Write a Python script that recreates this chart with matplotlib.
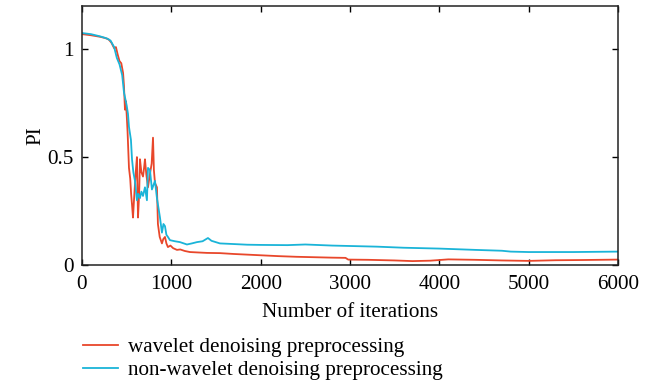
import matplotlib
matplotlib.use("Agg")
import matplotlib.pyplot as plt

# Performance index (PI) versus training iterations
wavelet_x = [0, 100, 200, 260, 300, 330, 360, 380, 400, 420, 440, 460, 470, 481,
             490, 500, 510, 526, 540, 550, 560, 571, 585, 600, 615, 627, 640, 649,
             665, 683, 695, 705, 720, 739, 760, 780, 795, 805, 817, 839, 850, 870,
             895, 910, 929, 945, 962, 990, 1020, 1063, 1100, 1150, 1208, 1300,
             1399, 1544, 1700, 1850, 2000, 2200, 2400, 2600, 2800, 2950, 2980,
             3200, 3500, 3700, 3900, 4100, 4400, 4700, 5000, 5300, 5600, 6000]
wavelet_pi = [1.07, 1.065, 1.058, 1.052, 1.045, 1.03, 1.005, 1.01, 0.975, 0.945,
              0.935, 0.89, 0.83, 0.72, 0.76, 0.70, 0.62, 0.45, 0.40, 0.33, 0.28,
              0.22, 0.32, 0.42, 0.50, 0.22, 0.33, 0.49, 0.43, 0.41, 0.45, 0.49,
              0.42, 0.36, 0.42, 0.47, 0.59, 0.44, 0.38, 0.36, 0.19, 0.13, 0.10,
              0.12, 0.13, 0.10, 0.083, 0.09, 0.078, 0.07, 0.072, 0.065, 0.06,
              0.058, 0.056, 0.055, 0.051, 0.048, 0.045, 0.041, 0.038, 0.036,
              0.034, 0.033, 0.025, 0.024, 0.021, 0.018, 0.02, 0.026, 0.024,
              0.021, 0.019, 0.022, 0.023, 0.025]

plain_x = [0, 100, 200, 280, 320, 360, 390, 420, 450, 470, 500, 515, 526, 548,
           560, 575, 593, 615, 630, 649, 665, 683, 705, 727, 739, 761, 783, 800,
           817, 839, 873, 895, 912, 929, 945, 962, 985, 1040, 1097, 1175, 1230,
           1287, 1350, 1410, 1450, 1544, 1700, 1850, 2000, 2300, 2500, 2800,
           3000, 3300, 3600, 4000, 4400, 4700, 4800, 5000, 5500, 6000]
plain_pi = [1.075, 1.07, 1.06, 1.05, 1.04, 1.01, 0.96, 0.93, 0.88, 0.80, 0.74,
            0.70, 0.64, 0.58, 0.49, 0.43, 0.39, 0.30, 0.33, 0.31, 0.34, 0.32,
            0.36, 0.30, 0.45, 0.44, 0.35, 0.37, 0.39, 0.31, 0.22, 0.15, 0.19,
            0.18, 0.14, 0.13, 0.115, 0.11, 0.106, 0.095, 0.1, 0.106, 0.11,
            0.125, 0.112, 0.10, 0.097, 0.094, 0.093, 0.092, 0.095, 0.09, 0.088,
            0.085, 0.08, 0.076, 0.07, 0.066, 0.062, 0.06, 0.06, 0.062]

x_ticks = [0, 1000, 2000, 3000, 4000, 5000, 6000]
y_ticks = [0, 0.5, 1]
y_tick_labels = ["0", "0.5", "1"]

RED = "#E8472B"
BLUE = "#1AB4D8"
FS = 15.2

plt.rcParams["font.family"] = ["Liberation Serif", "DejaVu Serif"]
plt.rcParams["font.size"] = FS

fig = plt.figure(figsize=(6.59, 3.81), dpi=100)
ax = fig.add_axes([0.1244, 0.3045, 0.8134, 0.6795])

l1, = ax.plot(wavelet_x, wavelet_pi, color=RED, lw=1.3,
              label="wavelet denoising preprocessing")
l2, = ax.plot(plain_x, plain_pi, color=BLUE, lw=1.3,
              label="non-wavelet denoising preprocessing")

ax.set_xlim(0, 6000)
ax.set_ylim(0, 1.2)
ax.set_xticks(x_ticks)
ax.set_yticks(y_ticks)
ax.set_yticklabels(y_tick_labels)
ax.tick_params(direction="in", top=True, right=True, length=4, width=1,
               labelsize=FS)
ax.tick_params(axis="x", pad=7)
ax.tick_params(axis="y", pad=6)
for s in ax.spines.values():
    s.set_linewidth(1.1)
    s.set_color("#222222")

ax.set_xlabel("Number of iterations", fontsize=FS, labelpad=7)
ax.set_ylabel("PI", fontsize=FS, labelpad=1)

fig.legend(handles=[l1, l2], loc="upper left", bbox_to_anchor=(0.126, 0.115),
           frameon=False, fontsize=FS, handlelength=1.66, handletextpad=0.45,
           labelspacing=0.16, borderaxespad=0, borderpad=0)

fig.savefig("out.png", dpi=100)
